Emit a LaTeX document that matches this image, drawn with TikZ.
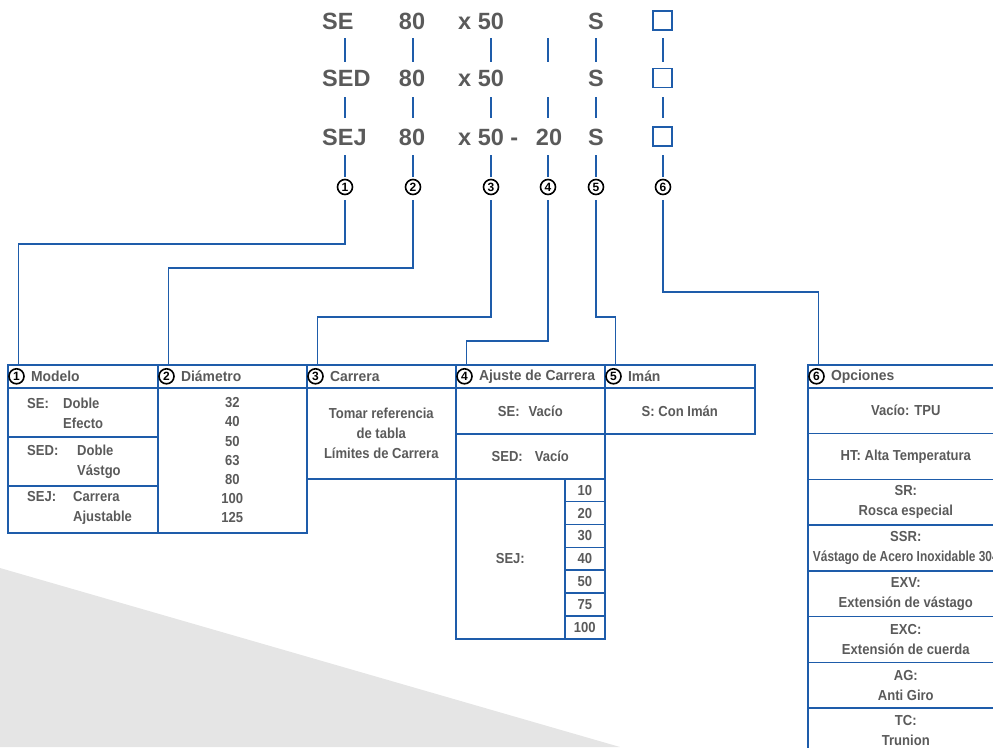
\documentclass[tikz,border=0pt]{standalone}
\usepackage{fontspec}
\setmainfont{Liberation Sans}
\newfontfamily\tabfont[FakeStretch=0.9]{Liberation Sans}
\newfontfamily\headfont[FakeStretch=0.96]{Liberation Sans}
\newfontfamily\tightfont[FakeStretch=0.82]{Liberation Sans}
\usetikzlibrary{positioning}

\definecolor{lineblue}{RGB}{30,92,170}
\definecolor{textgray}{RGB}{90,90,90}
\definecolor{wedgegray}{RGB}{229,229,229}

\tikzset{
  code/.style={inner sep=0pt, text=textgray, font=\fontsize{23.5}{26}\selectfont\bfseries},
  slot/.style={draw=lineblue, line width=1.3pt, minimum size=19pt, inner sep=0pt},
  tick/.style={lineblue, line width=1.2pt},
  wire/.style={lineblue, line width=1.3pt},
  cnum/.style={circle, draw=black, line width=1.6pt, minimum size=15pt, inner sep=0pt, font=\fontsize{12}{12}\selectfont\bfseries},
  cell/.style={draw=lineblue, line width=1.6pt, anchor=north west, inner sep=0pt, align=center, text=textgray, font=\tabfont\fontsize{14.5}{20}\selectfont\bfseries},
  head/.style={inner sep=0pt, text=textgray, font=\headfont\fontsize{14.5}{16}\selectfont\bfseries},
  entry/.style={inner sep=0pt, anchor=west, align=left, text=textgray, font=\tabfont\fontsize{14.5}{20}\selectfont\bfseries},
}

\begin{document}
\begin{tikzpicture}[x=1pt,y=-1pt]
  \useasboundingbox (0,0) rectangle (993,747);
  \clip (0,0) rectangle (993,747);

  % background wedge
  \fill[wedgegray] (0,568) -- (620,747) -- (0,747) -- cycle;

  % order code, three model rows
  \node[code, anchor=west] (m1) at (322,21.5) {SE};
  \node[code] (d1) at (412,21.5) {80};
  \node[code, anchor=west] (s1) at (458,21.5) {x 50};
  \node[code] (g1) at (596,21.5) {S};
  \node[slot] (o1) at (662.5,20.5) {};

  \node[code, anchor=west] (m2) at (322,78.7) {SED};
  \node[code] (d2) at (412,78.7) {80};
  \node[code, anchor=west] (s2) at (458,78.7) {x 50};
  \node[code] (g2) at (596,78.7) {S};
  \node[slot] (o2) at (662.5,78) {};

  \node[code, anchor=west] (m3) at (322,137) {SEJ};
  \node[code] (d3) at (412,137) {80};
  \node[code, anchor=west] (s3) at (458,137) {x 50 -};
  \node[code] (a3) at (549,137) {20};
  \node[code] (g3) at (596,137) {S};
  \node[slot] (o3) at (662.5,136.5) {};

  % position numbers
  \foreach \x [count=\i] in {345,413,491,548,596,663}
    \node[cnum] (n\i) at (\x,187) {\i};

  \foreach \i in {1,...,6} {
    \draw[tick] (n\i |- 0,38) -- (n\i |- 0,62);
    \draw[tick] (n\i |- 0,97) -- (n\i |- 0,118);
    \draw[tick] (n\i |- 0,155) -- (n\i |- 0,177);
  }

  % table headers
  \foreach \i/\x/\w/\t in {1/7/150/Modelo, 2/157/149/Diámetro, 3/306/149/Carrera,
      4/455/149/Ajuste de Carrera, 5/604/150/Imán, 6/807/196/Opciones} {
    \node[cell, minimum width=\w pt, minimum height=23pt] (hd\i) at (\x,364) {};
    \node[cnum] (hc\i) at ([xshift=9.5pt]hd\i.west) {\i};
    \node[head, right=6pt of hc\i] (ht\i) {\t};
  }

  % 1 Modelo
  \node[cell, minimum width=150pt, minimum height=49pt] (se) at (7,387) {};
  \node[cell, minimum width=150pt, minimum height=49pt] (sed) at (7,436) {};
  \node[cell, minimum width=150pt, minimum height=47pt] (sej) at (7,485) {};
  \node[entry] (set) at (27,413) {\makebox[36pt][l]{SE:}Doble\\\hspace*{36pt}Efecto};
  \node[entry] (sedt) at (27,462) {\makebox[50pt][l]{SED:}Doble\\\hspace*{50pt}Vástgo};
  \node[entry] (sejt) at (27,508) {\makebox[46pt][l]{SEJ:}Carrera\\\hspace*{46pt}Ajustable};

  % 2 Diametro
  \node[cell, minimum width=149pt, minimum height=145pt,
    font=\tabfont\fontsize{14.5}{19.2}\selectfont\bfseries] (dia) at (157,387)
    {32\\40\\50\\63\\80\\100\\125};

  % 3 Carrera
  \node[cell, minimum width=149pt, minimum height=91pt] (car) at (306,387)
    {Tomar referencia\\de tabla\\Límites de Carrera};

  % 4 Ajuste de carrera
  \node[cell, minimum width=149pt, minimum height=46pt] (ajse) at (455,387) {SE:\hspace{9pt}Vacío};
  \node[cell, minimum width=149pt, minimum height=45pt] (ajsed) at (455,433) {SED:\hspace{12pt}Vacío};
  \node[cell, minimum width=109pt, minimum height=160pt] (ajsej) at (455,478) {SEJ:};
  \foreach \v [count=\i] in {10,20,30,40,50,75,100}
    \node[cell, minimum width=40pt, minimum height=22.86pt] (aj\i) at (564,{478+(\i-1)*22.86}) {\v};

  % 5 Iman
  \node[cell, minimum width=150pt, minimum height=46pt] (iman) at (604,387) {S: Con Imán};

  % 6 Opciones
  \foreach \t [count=\i] in {Vacío: TPU, HT: Alta Temperatura, SR:\\Rosca especial,
      {SSR:\\{\tightfont Vástago de Acero Inoxidable 304}}, EXV:\\Extensión de vástago,
      EXC:\\Extensión de cuerda, AG:\\Anti Giro, TC:\\Trunion}
    \node[cell, minimum width=196pt, minimum height=45.75pt] (op\i) at (807,{387+(\i-1)*45.75}) {\t};

  % leaders from the code to the tables
  \foreach \i/\y in {1/244,2/268,3/317,4/341,5/317,6/292}
    \draw[wire] ([yshift=-5pt]n\i.south) -- (n\i |- 0,\y) -| ([xshift=11.5pt]hd\i.north west);
\end{tikzpicture}
\end{document}
